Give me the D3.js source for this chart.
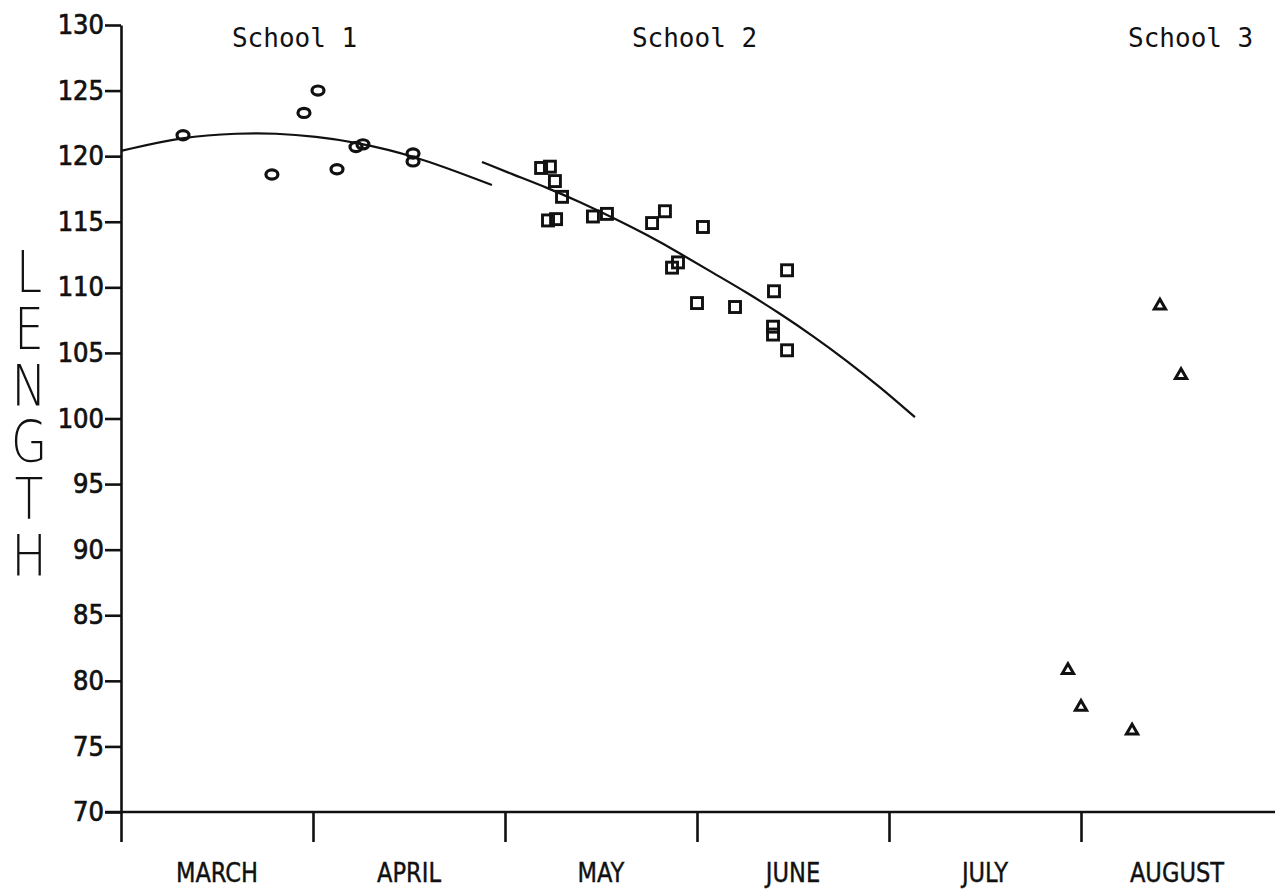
<!DOCTYPE html>
<html>
<head>
<meta charset="utf-8">
<script src="https://cdn.jsdelivr.net/npm/d3@7"></script>
<style>
  body { margin: 0; background: #fff; }
  svg { display: block; }
  .axis path, .axis line { stroke: #111; stroke-width: 2.6; }
  .axis text { font-family: "DejaVu Sans Condensed", "DejaVu Sans", sans-serif; font-size: 27px; fill: #111; stroke: #111; stroke-width: 0.7; }
</style>
</head>
<body>
<script>
// x values are in months after March 1 (0 = March 1, 1 = April 1, ...)
var months = ["MARCH", "APRIL", "MAY", "JUNE", "JULY", "AUGUST"];
var yTicks = [70, 75, 80, 85, 90, 95, 100, 105, 110, 115, 120, 125, 130];

// School 1 (circles)
var school1X = [0.323, 0.786, 0.953, 1.026, 1.125, 1.224, 1.260, 1.521, 1.521];
var school1Y = [121.6, 118.6, 123.3, 125.0, 119.0, 120.7, 120.9, 120.2, 119.6];

// School 2 (squares)
var school2X = [2.188, 2.234, 2.260, 2.297, 2.224, 2.266, 2.458, 2.531, 2.766, 2.833,
                3.031, 2.870, 2.901, 3.000, 3.198, 3.469, 3.401, 3.396, 3.396, 3.469];
var school2Y = [119.1, 119.2, 118.1, 116.9, 115.1, 115.2, 115.4, 115.6, 114.9, 115.8,
                114.6, 111.5, 111.9, 108.8, 108.5, 111.3, 109.7, 107.0, 106.4, 105.2];

// School 3 (triangles)
var school3X = [5.411, 5.521, 4.932, 5.000, 5.266];
var school3Y = [108.6, 103.3, 80.8, 78.0, 76.2];

// fitted curves
var curve1X = [0.0, 0.323, 0.62, 0.80, 1.02, 1.21, 1.52, 1.932];
var curve1Y = [120.4, 121.5, 121.75, 121.75, 121.5, 121.1, 120.1, 117.8];
var curve2X = [1.880, 2.042, 2.219, 2.391, 2.563, 2.740, 2.911, 3.083, 3.260, 3.432, 3.604, 3.781, 3.953, 4.135];
var curve2Y = [119.56, 118.6, 117.6, 116.5, 115.3, 114.0, 112.6, 111.1, 109.6, 108.0, 106.3, 104.4, 102.4, 100.1];

// school labels (x in months, placed along the top)
var schoolNames = ["School 1", "School 2", "School 3"];
var schoolNameX = [0.578, 2.661, 5.245];

var yTitle = "LENGTH";

var width = 1275, height = 890;

var x = d3.scaleLinear().domain([0, 6]).range([121, 1273]);
var y = d3.scaleLinear().domain([70, 130]).range([812, 25]);

var svg = d3.select("body").append("svg")
    .attr("width", width)
    .attr("height", height);

// zip helper
function pairs(xs, ys) {
  return xs.map(function (d, i) { return { x: d, y: ys[i] }; });
}

// x axis: month boundary ticks hanging below
var xAxis = svg.append("g")
    .attr("class", "axis")
    .attr("transform", "translate(0," + y(70) + ")")
    .call(d3.axisBottom(x).tickValues([0, 1, 2, 3, 4, 5]).tickSize(30).tickSizeOuter(0).tickFormat(""));
xAxis.select(".domain").attr("d", "M" + (x(0) - 16) + ",0H" + width);

// y axis
svg.append("g")
    .attr("class", "axis")
    .attr("transform", "translate(" + x(0) + ",0)")
    .call(d3.axisLeft(y).tickValues(yTicks).tickSize(16).tickSizeOuter(0).tickPadding(1));

// month names centred in each month
svg.selectAll(".month")
    .data(months)
    .enter().append("text")
    .attr("class", "month")
    .attr("transform", function (d, i) { return "translate(" + x(i + 0.5) + ",882) scale(0.93,1)"; })
    .attr("text-anchor", "middle")
    .style("font-family", "'DejaVu Sans Condensed', 'DejaVu Sans', sans-serif")
    .style("font-size", "27px")
    .style("fill", "#111")
    .style("stroke", "#111")
    .style("stroke-width", 0.4)
    .text(function (d) { return d; });

// vertical axis title, letters stacked upright
svg.append("text")
    .attr("class", "ytitle")
    .attr("transform", "translate(29,240) scale(0.82,1)")
    .style("writing-mode", "vertical-lr")
    .style("text-orientation", "upright")
    .style("font-family", "'DejaVu Sans', sans-serif")
    .style("font-weight", 200)
    .style("font-size", "57px")
    .style("letter-spacing", "-9px")
    .style("fill", "#111")
    .text(yTitle);

// school labels
svg.selectAll(".school")
    .data(schoolNames)
    .enter().append("text")
    .attr("class", "school")
    .attr("x", function (d, i) { return x(schoolNameX[i]); })
    .attr("y", 47)
    .style("font-family", "'DejaVu Sans Mono', monospace")
    .style("font-size", "26px")
    .style("fill", "#111")
    .text(function (d) { return d; });

// fitted curves
var line = d3.line()
    .x(function (d) { return x(d.x); })
    .y(function (d) { return y(d.y); })
    .curve(d3.curveBasis);

[pairs(curve1X, curve1Y), pairs(curve2X, curve2Y)].forEach(function (c) {
  svg.append("path")
      .datum(c)
      .attr("d", line)
      .attr("fill", "none")
      .attr("stroke", "#111")
      .attr("stroke-width", 2.2);
});

// School 1 circles
svg.selectAll(".s1")
    .data(pairs(school1X, school1Y))
    .enter().append("ellipse")
    .attr("class", "s1")
    .attr("cx", function (d) { return x(d.x); })
    .attr("cy", function (d) { return y(d.y); })
    .attr("rx", 6)
    .attr("ry", 4.6)
    .attr("fill", "none")
    .attr("stroke", "#111")
    .attr("stroke-width", 3.2);

// School 2 squares
svg.selectAll(".s2")
    .data(pairs(school2X, school2Y))
    .enter().append("rect")
    .attr("class", "s2")
    .attr("x", function (d) { return x(d.x) - 5.5; })
    .attr("y", function (d) { return y(d.y) - 5.5; })
    .attr("width", 11)
    .attr("height", 11)
    .attr("fill", "none")
    .attr("stroke", "#111")
    .attr("stroke-width", 2.9);

// School 3 triangles
svg.selectAll(".s3")
    .data(pairs(school3X, school3Y))
    .enter().append("path")
    .attr("class", "s3")
    .attr("transform", function (d) { return "translate(" + x(d.x) + "," + y(d.y) + ")"; })
    .attr("d", d3.symbol().type(d3.symbolTriangle).size(55))
    .attr("fill", "#fff")
    .attr("stroke", "#111")
    .attr("stroke-width", 3);
</script>
</body>
</html>
